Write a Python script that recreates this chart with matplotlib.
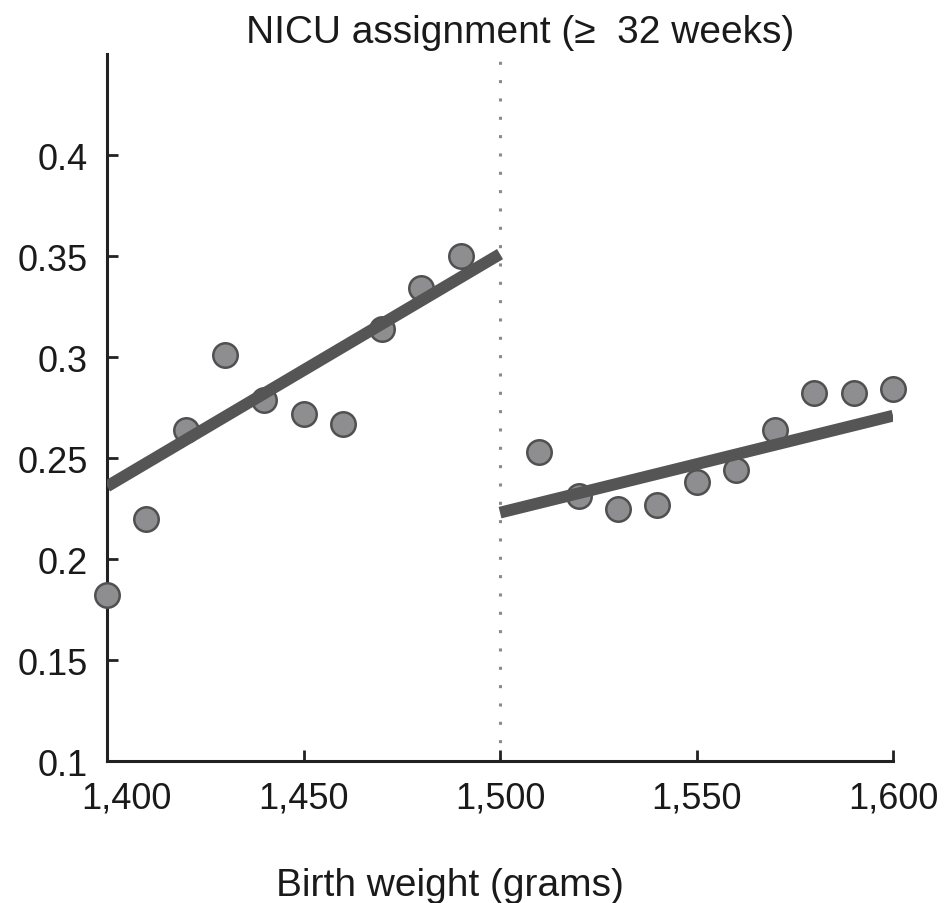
import matplotlib.pyplot as plt
import matplotlib.transforms as mtransforms

plt.rcParams['font.family'] = ['Liberation Sans', 'DejaVu Sans']

weights = [1400, 1410, 1420, 1430, 1440, 1450, 1460, 1470, 1480, 1490,
           1510, 1520, 1530, 1540, 1550, 1560, 1570, 1580, 1590, 1600]
nicu = [0.182, 0.220, 0.264, 0.301, 0.279, 0.272, 0.267, 0.314, 0.334, 0.350,
        0.253, 0.231, 0.225, 0.227, 0.238, 0.244, 0.264, 0.282, 0.282, 0.284]

left_fit_x = [1400, 1500]
left_fit_y = [0.236, 0.351]
right_fit_x = [1500, 1600]
right_fit_y = [0.223, 0.271]

cutoff = 1500

fig = plt.figure(figsize=(9.49, 9.04), dpi=100)
ax = fig.add_axes([0.1128, 0.157, 0.8282, 0.782])

ax.axvline(cutoff, color='#8a8a8a', linestyle=(0, (1, 5)), linewidth=2.2, zorder=1)
ax.scatter(weights, nicu, s=310, color='#8e8e90', edgecolors='#505050',
           linewidths=1.8, zorder=3, clip_on=False)
ax.plot(left_fit_x, left_fit_y, color='#555555', linewidth=8.5,
        solid_capstyle='butt', zorder=4)
ax.plot(right_fit_x, right_fit_y, color='#555555', linewidth=8.5,
        solid_capstyle='butt', zorder=4)

ax.set_xlim(1400, 1600)
ax.set_ylim(0.1, 0.45)
ax.set_xticks([1400, 1450, 1500, 1550, 1600])
ax.set_xticklabels(['1,400', '1,450', '1,500', '1,550', '1,600'])
ax.set_yticks([0.1, 0.15, 0.2, 0.25, 0.3, 0.35, 0.4])
ax.set_yticklabels(['0.1', '0.15', '0.2', '0.25', '0.3', '0.35', '0.4'])

for side in ['top', 'right']:
    ax.spines[side].set_visible(False)
for side in ['left', 'bottom']:
    ax.spines[side].set_linewidth(2.2)
    ax.spines[side].set_color('#222222')

ax.tick_params(direction='in', length=8, width=2, color='#222222',
               labelsize=26, labelcolor='#1a1a1a', pad=14)

# first x label nudged right so it clears 0.1
first = ax.get_xticklabels()[0]
first.set_transform(first.get_transform() +
                    mtransforms.ScaledTranslation(0.19, 0, fig.dpi_scale_trans))

ax.set_title('NICU assignment (\u2265  32 weeks)', fontsize=28, color='#1a1a1a',
             pad=9, x=0.525)
ax.set_xlabel('Birth weight (grams)', fontsize=28, color='#1a1a1a')
ax.xaxis.set_label_coords(0.436, -0.15)

plt.savefig('out.png', dpi=100)
